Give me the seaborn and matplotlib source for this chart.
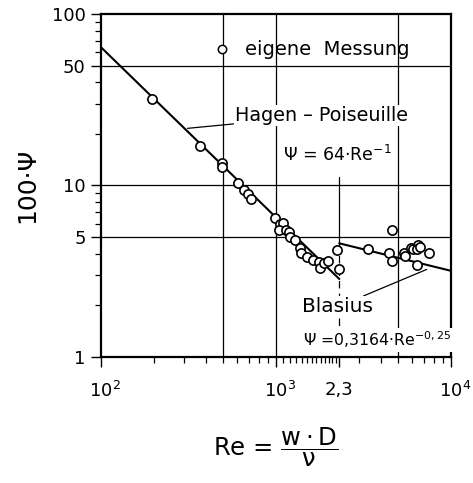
import matplotlib
matplotlib.use("Agg")
import matplotlib.pyplot as plt
import matplotlib.transforms as mtrans
import seaborn as sns
import pandas as pd
from matplotlib.ticker import NullFormatter

sns.set_style("white")
plt.rcParams['font.family'] = ['DejaVu Sans']
plt.rcParams['mathtext.default'] = 'regular'
plt.rcParams['text.color'] = 'black'
plt.rcParams['axes.labelcolor'] = 'black'
plt.rcParams['xtick.color'] = 'black'
plt.rcParams['ytick.color'] = 'black'

# measured points (Re, 100*psi)
re_meas = [195, 370, 490, 490, 610, 656, 695, 716, 993, 1054, 1091, 1040, 1135,
           1181, 1202, 1279, 1372, 1383, 1494, 1634, 1761, 1783, 1880, 1990, 2220,
           2300, 3340, 4620, 4420, 4578, 5390, 5450, 5880, 6100, 6500, 6360, 6650,
           6370, 7450]
psi_meas = [31.9, 17.0, 13.6, 12.8, 10.3, 9.37, 8.9, 8.3, 6.44, 5.97, 6.07, 5.48, 5.5,
            5.33, 4.99, 4.81, 4.30, 4.06, 3.85, 3.68, 3.60, 3.32, 3.52, 3.65, 4.2,
            3.27, 4.28, 5.5, 4.03, 3.65, 4.03, 3.90, 4.30, 4.25, 4.5, 4.25, 4.37,
            3.45, 4.03]

# theory lines (end points)
hp_re = [100, 2300]
hp_psi = [64, 2.85]
bl_re = [2300, 10000]
bl_psi = [4.6, 3.18]

x_major = [100, 1000, 2300, 10000]
x_major_labels = ["10$^2$", "10$^3$", "2,3", "10$^4$"]
y_major = [1, 5, 10, 50, 100]
y_major_labels = ["1", "5", "10", "50", "100"]
x_grid = [500, 1000, 5000]
y_grid = [5, 10, 50]

df_meas = pd.DataFrame({"Re": re_meas, "psi": psi_meas})
df_hp = pd.DataFrame({"Re": hp_re, "psi": hp_psi})
df_bl = pd.DataFrame({"Re": bl_re, "psi": bl_psi})

fig = plt.figure(figsize=(4.73, 4.83), dpi=100)
ax = fig.add_axes([0.2135, 0.2609, 0.74, 0.7101])
ax.set_xscale("log")
ax.set_yscale("log")
ax.set_xlim(100, 10000)
ax.set_ylim(1, 100)

for xv in x_grid:
    ax.axvline(xv, color="black", lw=0.9, zorder=1)
for yv in y_grid:
    ax.axhline(yv, color="black", lw=0.9, zorder=1)
# Re = 2300 marker line
ax.plot([2300, 2300], [11.2, 4.6], color="black", lw=0.9, zorder=1)
ax.plot([2300, 2300], [4.6, 1], color="black", lw=0.9, ls=(0, (6, 4)), zorder=1)

sns.lineplot(data=df_hp, x="Re", y="psi", ax=ax, color="black", lw=1.5, zorder=2)
sns.lineplot(data=df_bl, x="Re", y="psi", ax=ax, color="black", lw=1.5, zorder=2)
sns.scatterplot(data=df_meas, x="Re", y="psi", ax=ax, marker="o", s=44,
                facecolor="white", edgecolor="black", linewidth=1.2, zorder=3)

box = dict(facecolor="white", edgecolor="none", pad=1.0)
# legend-like label
ax.plot([490], [62.5], marker="o", ms=6, mfc="white", mec="black", mew=1.1, zorder=4)
ax.text(665, 62.5, "eigene  Messung", fontsize=14, va="center", ha="left", zorder=5)

ax.annotate("Hagen – Poiseuille", xy=(312, 6400 / 312 * 1.05), xytext=(583, 25.6),
            fontsize=13.8, va="center", ha="left", bbox=box, zorder=5,
            arrowprops=dict(arrowstyle="-", color="black", lw=0.9,
                            shrinkA=0, shrinkB=0))
ax.text(1097, 15.1, "Ψ = 64·Re$^{-1}$", fontsize=12.5, va="center", ha="left",
        bbox=box, zorder=5)
ax.annotate("Blasius", xy=(7260, 3.24), xytext=(1408, 1.96),
            fontsize=14.5, va="center", ha="left", bbox=box, zorder=5,
            arrowprops=dict(arrowstyle="-", color="black", lw=0.9,
                            shrinkA=0, shrinkB=0))
ax.text(1425, 1.26, "Ψ =0,3164·Re$^{-0,25}$", fontsize=11.3, va="center",
        ha="left", bbox=box, zorder=5)

ax.set_xticks(x_major)
ax.set_xticklabels(x_major_labels, fontsize=13)
ax.set_xticks([200, 300, 400, 500, 600, 700, 800, 900,
               1100, 1200, 1300, 1400, 1500, 1600, 1700, 1800, 1900, 2000,
               2100, 2200, 3000, 4000, 5000, 6000, 7000, 8000, 9000], minor=True)
ax.xaxis.set_minor_formatter(NullFormatter())
ax.set_yticks(y_major)
ax.set_yticklabels(y_major_labels, fontsize=13)
ax.set_yticks([2, 3, 4, 6, 7, 8, 9, 20, 30, 40, 60, 70, 80, 90], minor=True)
ax.yaxis.set_minor_formatter(NullFormatter())

ax.tick_params(axis="both", which="major", direction="out", length=7, width=1.0,
               color="black", labelcolor="black")
ax.tick_params(axis="both", which="minor", direction="out", length=4, width=0.9,
               color="black")
ax.tick_params(axis="x", which="major", pad=10)
ax.tick_params(axis="y", which="major", pad=4)
ax.tick_params(bottom=True, left=True, which="both")

# shift the power-of-ten labels so the "10" sits under the tick
for lab in ax.get_xticklabels():
    if "$" in lab.get_text():
        lab.set_transform(lab.get_transform() +
                          mtrans.ScaledTranslation(4 / 100, 0, fig.dpi_scale_trans))

for sp in ax.spines.values():
    sp.set_visible(True)
    sp.set_color("black")
    sp.set_linewidth(1.6)

ax.set_xlabel(r"Re = $\dfrac{w\cdot D}{\nu}$", fontsize=17.5, labelpad=18)
ax.set_ylabel("100·Ψ", fontsize=18, labelpad=9)

fig.savefig("out.png", dpi=100)
